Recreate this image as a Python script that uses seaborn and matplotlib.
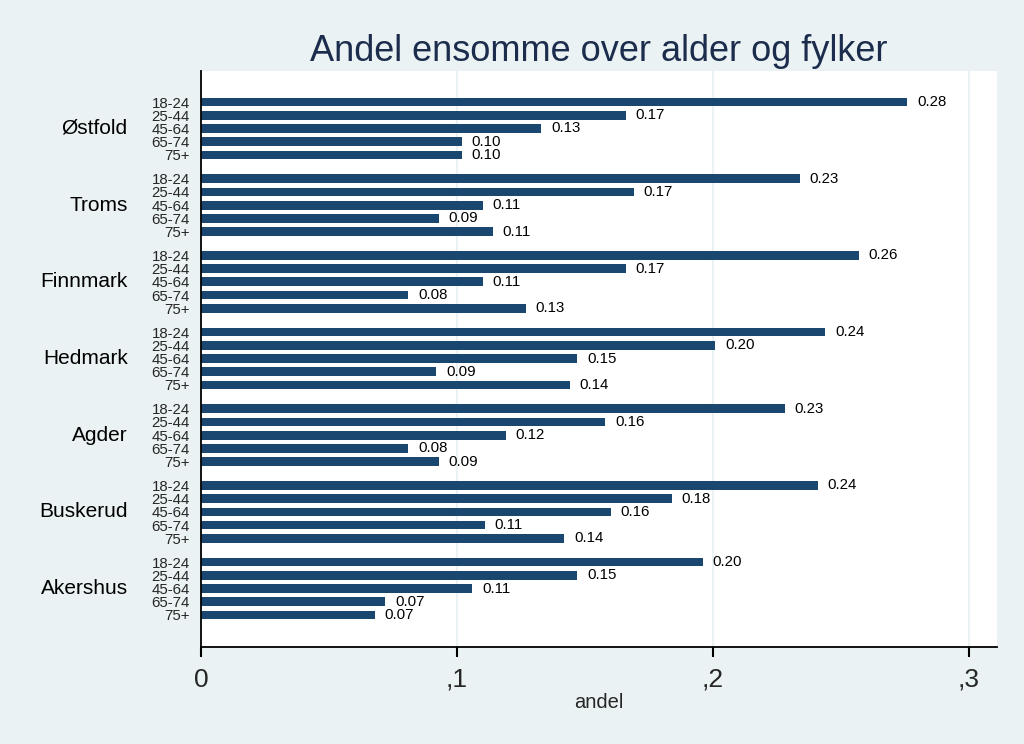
# Stata-style horizontal bar chart: share of lonely people by age and county
import pandas as pd
import matplotlib.pyplot as plt
import seaborn as sns

# Data
fylker = ['Østfold', 'Troms', 'Finnmark', 'Hedmark', 'Agder', 'Buskerud', 'Akershus']
aldersgrupper = ['18-24', '25-44', '45-64', '65-74', '75+']

ostfold = [0.276, 0.166, 0.133, 0.102, 0.102]
troms = [0.234, 0.169, 0.110, 0.093, 0.114]
finnmark = [0.257, 0.166, 0.110, 0.081, 0.127]
hedmark = [0.244, 0.201, 0.147, 0.092, 0.144]
agder = [0.228, 0.158, 0.119, 0.081, 0.093]
buskerud = [0.241, 0.184, 0.160, 0.111, 0.142]
akershus = [0.196, 0.147, 0.106, 0.072, 0.068]

verdier = [ostfold, troms, finnmark, hedmark, agder, buskerud, akershus]

# Build a long table, with a numeric position for each bar (gap between counties)
gruppe_avstand = 5.8
rader = []
for g, (fylke, vals) in enumerate(zip(fylker, verdier)):
    for a, (alder, v) in enumerate(zip(aldersgrupper, vals)):
        rader.append({'fylke': fylke, 'alder': alder, 'andel': v,
                      'pos': g * gruppe_avstand + a})
data = pd.DataFrame(rader)

sns.set_theme(style='white')
plt.rcParams['font.family'] = ['Liberation Sans', 'DejaVu Sans']

bakgrunn = '#eaf2f3'
bar_farge = '#1a476f'

fig = plt.figure(figsize=(10.24, 7.44), dpi=100, facecolor=bakgrunn)
ax = fig.add_axes([0.1963, 0.1304, 0.7773, 0.7742])
ax.set_facecolor('white')

sns.barplot(data=data, x='andel', y='pos', orient='h', native_scale=True,
            color=bar_farge, saturation=1, width=0.66, linewidth=0, ax=ax)

# Value labels at the end of each bar
for c in ax.containers:
    ax.bar_label(c, fmt='%.2f', padding=7, fontsize=10.8, color='black')

# Axes limits, ticks and labels
ax.set_xlim(0, 0.311)
ax.set_ylim(data['pos'].max() + 2.42, -2.35)
ax.set_xticks([0, 0.1, 0.2, 0.3])
ax.set_xticklabels(['0', ',1', ',2', ',3'], fontsize=19)
ax.set_yticks(data['pos'])
ax.set_yticklabels(data['alder'], fontsize=10.8)
ax.tick_params(axis='y', length=0, pad=8)
ax.tick_params(axis='x', length=7, width=1.5, color='black', pad=8, direction='out',
               bottom=True)
ax.set_xlabel('andel', fontsize=14.5, labelpad=1)
ax.set_ylabel('')

ax.xaxis.grid(True, color=bakgrunn, lw=1.5)
ax.set_axisbelow(True)

for s in ['top', 'right']:
    ax.spines[s].set_visible(False)
for s in ['left', 'bottom']:
    ax.spines[s].set_color('black')
    ax.spines[s].set_linewidth(1.3)

# County names, centred on the middle bar of each group
for g, fylke in enumerate(fylker):
    ax.text(-0.092, g * gruppe_avstand + 2, fylke, transform=ax.get_yaxis_transform(),
            ha='right', va='center', fontsize=15, color='black')

fig.text(0.585, 0.918, 'Andel ensomme over alder og fylker', ha='center',
         va='baseline', fontsize=26, color='#1c2c4c')

plt.savefig('out.png', dpi=100, facecolor=bakgrunn)
